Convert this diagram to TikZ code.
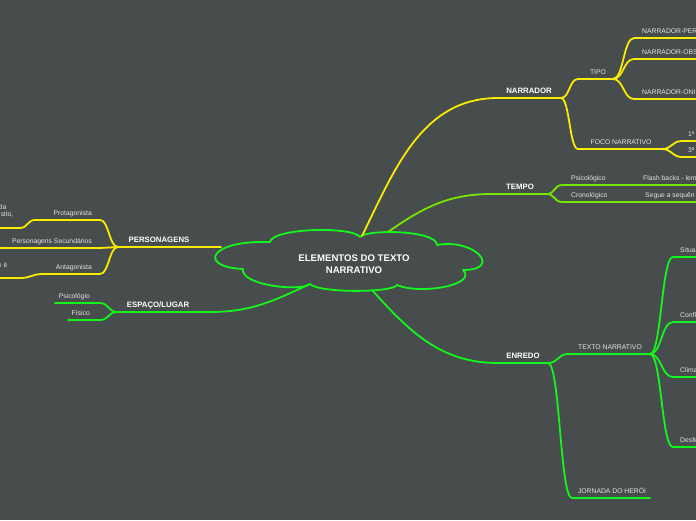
\documentclass[tikz,border=0pt]{standalone}
\usepackage{fontspec}
\setmainfont{Liberation Sans}
\usetikzlibrary{calc}
\definecolor{bgcol}{RGB}{71,76,76}
\definecolor{lineyellow}{RGB}{250,236,0}
\definecolor{linelime}{RGB}{118,232,0}
\definecolor{linegreen}{RGB}{20,245,30}
\definecolor{labelgrey}{RGB}{228,228,228}

\begin{document}
\begin{tikzpicture}[x=1pt,y=-1pt,
  ylw/.style={draw=lineyellow,line width=1.8pt,line cap=round},
  lme/.style={draw=linelime,line width=1.8pt,line cap=round},
  grn/.style={draw=linegreen,line width=1.8pt,line cap=round},
  sb/.style={to path={let \p1=(\tikztostart),\p2=(\tikztotarget) in
    .. controls ({(\x1+\x2)/2},\y1) and ({(\x1+\x2)/2},\y2) .. (\tikztotarget)}},
  lbl/.style={text=labelgrey,font=\fontsize{6.8}{8}\selectfont,inner sep=0pt},
  hd/.style={text=white,font=\bfseries\fontsize{7.8}{9}\selectfont,inner sep=0pt}]
  \useasboundingbox (0,0) rectangle (696,520);
  \fill[bgcol] (0,0) rectangle (696,520);
  \clip (0,0) rectangle (696,520);

  \draw[grn,line join=round] (270,242) .. controls (272,228) and (352,226) .. (360,237)
    .. controls (366,229) and (437,230) .. (437,245)
    .. controls (475,238) and (503,270) .. (463,270)
    .. controls (478,285) and (420,295) .. (397,285)
    .. controls (392,293) and (318,293) .. (310,284)
    .. controls (300,292) and (240,285) .. (243,269)
    .. controls (198,267) and (208,240) .. cycle;
  \node[text=white,align=center,inner sep=0pt,font=\bfseries\fontsize{9.6}{12}\selectfont]
    (root) at (354,264) {ELEMENTOS DO TEXTO\\NARRATIVO};
  \coordinate (cl-nar) at (362,236);
  \coordinate (cl-tmp) at (388,232);
  \coordinate (cl-pes) at (221,247);
  \coordinate (cl-esp) at (310,284);
  \coordinate (cl-enr) at (372,290);

  \coordinate (nar-a) at (498,98);  \coordinate (nar-b) at (561,98);
  \coordinate (tip-a) at (578,79);  \coordinate (tip-b) at (613,79);
  \coordinate (per-a) at (634,38);  \coordinate (per-b) at (700,38);
  \coordinate (obs-a) at (634,59);  \coordinate (obs-b) at (700,59);
  \coordinate (oni-a) at (634,99);  \coordinate (oni-b) at (700,99);
  \coordinate (foc-a) at (578,149); \coordinate (foc-b) at (662,149);
  \coordinate (pri-a) at (682,141); \coordinate (pri-b) at (700,141);
  \coordinate (ter-a) at (682,157); \coordinate (ter-b) at (700,157);
  \node[hd,anchor=base] (nar) at (529,93.5) {NARRADOR};
  \node[lbl,anchor=base] (tip) at (598,74.5) {TIPO};
  \node[lbl,anchor=base west] (per) at (642,33.5) {NARRADOR-PER};
  \node[lbl,anchor=base west] (obs) at (642,54.5) {NARRADOR-OBS};
  \node[lbl,anchor=base west] (oni) at (642,94.5) {NARRADOR-ONI};
  \node[lbl,anchor=base] (foc) at (621,144.5) {FOCO NARRATIVO};
  \node[lbl,anchor=base west] (pri) at (688,136.5) {1ª};
  \node[lbl,anchor=base west] (ter) at (688,152.5) {3ª};
  \draw[ylw] (cl-nar) to[out=64,in=180] (nar-a) -- (nar-b);
  \draw[ylw] (nar-b) to[sb] (tip-a) -- (tip-b);
  \draw[ylw] (nar-b) to[sb] (foc-a) -- (foc-b);
  \draw[ylw] (tip-b) to[sb] (per-a) -- (per-b);
  \draw[ylw] (tip-b) to[sb] (obs-a) -- (obs-b);
  \draw[ylw] (tip-b) to[sb] (oni-a) -- (oni-b);
  \draw[ylw] (foc-b) to[sb] (pri-a) -- (pri-b);
  \draw[ylw] (foc-b) to[sb] (ter-a) -- (ter-b);

  \coordinate (tmp-a) at (492,194); \coordinate (tmp-b) at (547,194);
  \coordinate (psi-a) at (562,185); \coordinate (psi-b) at (640,185);
  \coordinate (fla-b) at (700,185);
  \coordinate (cro-a) at (562,202); \coordinate (cro-b) at (640,202);
  \coordinate (seg-b) at (700,202);
  \node[hd,anchor=base] (tmp) at (520,189.5) {TEMPO};
  \node[lbl,anchor=base west] (psi) at (571,180.5) {Psicológico};
  \node[lbl,anchor=base west] (fla) at (643,180.5) {Flash backs - lem};
  \node[lbl,anchor=base west] (cro) at (571,197.5) {Cronológico};
  \node[lbl,anchor=base west] (seg) at (645,197.5) {Segue a sequên};
  \draw[lme] (cl-tmp) to[out=35,in=180] (tmp-a) -- (tmp-b);
  \draw[lme] (tmp-b) to[sb] (psi-a) -- (psi-b) -- (fla-b);
  \draw[lme] (tmp-b) to[sb] (cro-a) -- (cro-b) -- (seg-b);

  \coordinate (pes-b) at (118,247);
  \coordinate (pro-a) at (100,220); \coordinate (pro-b) at (35,220);
  \coordinate (pro2-a) at (20,228); \coordinate (pro2-b) at (-5,228);
  \coordinate (sec-a) at (100,248); \coordinate (sec-b) at (-5,248);
  \coordinate (ant-a) at (100,274); \coordinate (ant-b) at (43,274);
  \coordinate (ant2-a) at (20,278); \coordinate (ant2-b) at (-5,278);
  \node[hd,anchor=base] (pes) at (159,242.5) {PERSONAGENS};
  \node[lbl,anchor=base east] (pro) at (92,215.5) {Protagonista};
  \node[lbl,anchor=base east] (pro2t) at (6.5,209.5) {da};
  \node[lbl,anchor=base east] (pro2u) at (13.5,216.5) {sito,};
  \node[lbl,anchor=base east] (sec) at (92,243.5) {Personagens Secundários};
  \node[lbl,anchor=base east] (ant) at (92,269.5) {Antagonista};
  \node[lbl,anchor=base east] (ant2) at (7.5,267) {e é};
  \draw[ylw] (cl-pes) -- (pes-b);
  \draw[ylw] (pes-b) to[sb] (pro-a) -- (pro-b) to[sb] (pro2-a) -- (pro2-b);
  \draw[ylw] (pes-b) to[sb] (sec-a) -- (sec-b);
  \draw[ylw] (pes-b) to[sb] (ant-a) -- (ant-b) to[sb] (ant2-a) -- (ant2-b);

  \coordinate (esp-a) at (210,312); \coordinate (esp-b) at (117,312);
  \coordinate (psg-a) at (100,303); \coordinate (psg-b) at (55,303);
  \coordinate (fis-a) at (100,320); \coordinate (fis-b) at (68,320);
  \node[hd,anchor=base] (esp) at (158,307.5) {ESPAÇO/LUGAR};
  \node[lbl,anchor=base east] (psg) at (90,298.5) {Psicológio};
  \node[lbl,anchor=base east] (fis) at (90,315.5) {Físico};
  \draw[grn] (cl-esp) to[out=205,in=0] (esp-a) -- (esp-b);
  \draw[grn] (esp-b) to[sb] (psg-a) -- (psg-b);
  \draw[grn] (esp-b) to[sb] (fis-a) -- (fis-b);

  \coordinate (enr-a) at (498,363); \coordinate (enr-b) at (548,363);
  \coordinate (txt-a) at (568,354); \coordinate (txt-b) at (650,354);
  \coordinate (jor-a) at (572,498); \coordinate (jor-b) at (650,498);
  \coordinate (sit-a) at (673,257); \coordinate (sit-b) at (700,257);
  \coordinate (con-a) at (673,322); \coordinate (con-b) at (700,322);
  \coordinate (cli-a) at (673,377); \coordinate (cli-b) at (700,377);
  \coordinate (des-a) at (673,447); \coordinate (des-b) at (700,447);
  \node[hd,anchor=base] (enr) at (523,358.5) {ENREDO};
  \node[lbl,anchor=base] (txt) at (610,349.5) {TEXTO NARRATIVO};
  \node[lbl,anchor=base] (jor) at (612,493.5) {JORNADA DO HERÓI};
  \node[lbl,anchor=base west] (sit) at (680,252.5) {Situa};
  \node[lbl,anchor=base west] (con) at (680,317.5) {Confl};
  \node[lbl,anchor=base west] (cli) at (680,372.5) {Clima};
  \node[lbl,anchor=base west] (des) at (680,442.5) {Desfe};
  \draw[grn] (cl-enr) to[out=-48,in=180] (enr-a) -- (enr-b);
  \draw[grn] (enr-b) to[sb] (txt-a) -- (txt-b);
  \draw[grn] (enr-b) to[sb] (jor-a) -- (jor-b);
  \draw[grn] (txt-b) to[sb] (sit-a) -- (sit-b);
  \draw[grn] (txt-b) to[sb] (con-a) -- (con-b);
  \draw[grn] (txt-b) to[sb] (cli-a) -- (cli-b);
  \draw[grn] (txt-b) to[sb] (des-a) -- (des-b);
\end{tikzpicture}
\end{document}
